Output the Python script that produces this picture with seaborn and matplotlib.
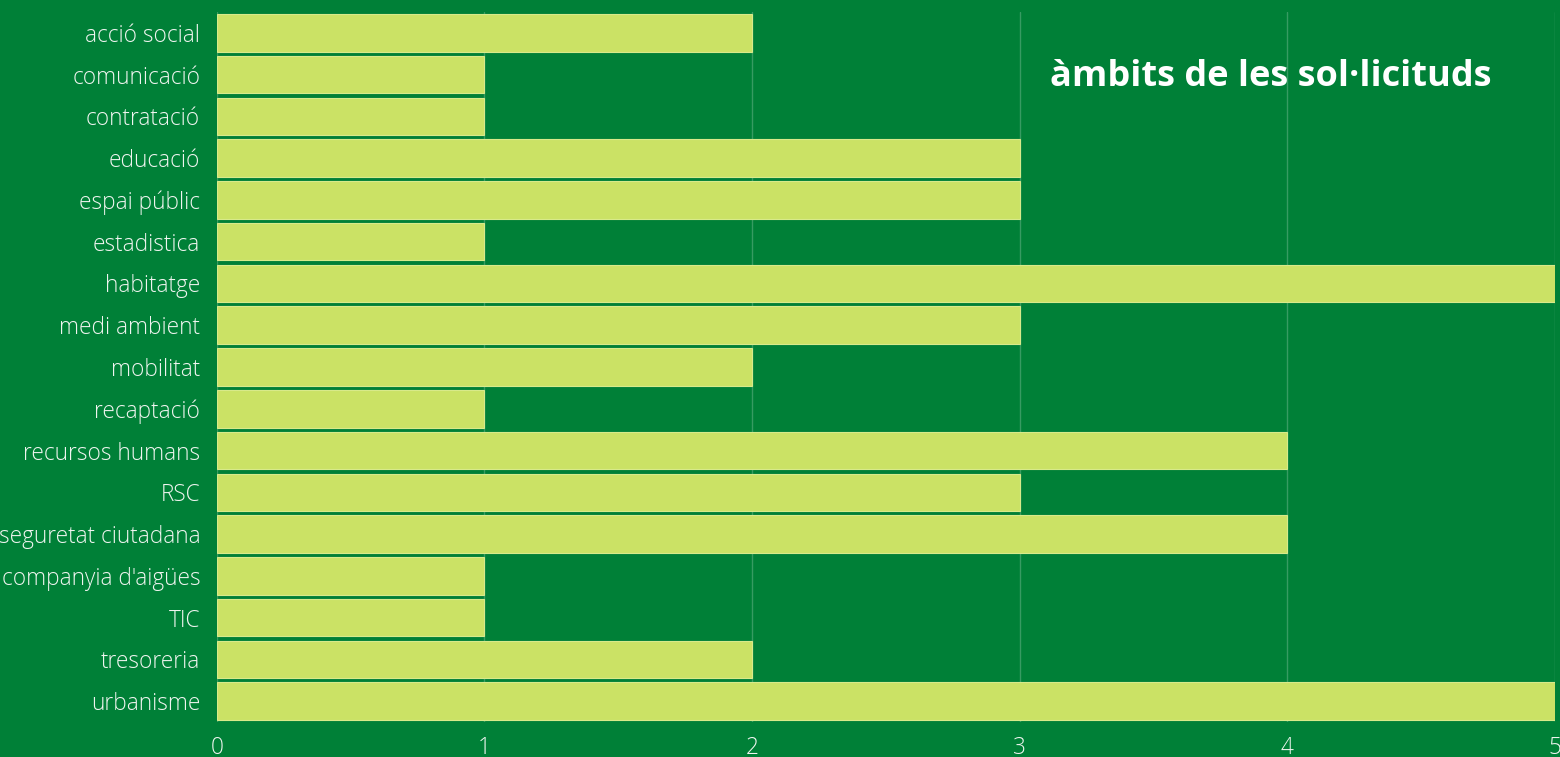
import matplotlib
matplotlib.use("Agg")
import matplotlib.pyplot as plt
import seaborn as sns
import pandas as pd

categories = ["acció social", "comunicació", "contratació", "educació", "espai públic",
              "estadistica", "habitatge", "medi ambient", "mobilitat", "recaptació",
              "recursos humans", "RSC", "seguretat ciutadana", "companyia d'aigües",
              "TIC", "tresoreria", "urbanisme"]
values = [2, 1, 1, 3, 3, 1, 5, 3, 2, 1, 4, 3, 4, 1, 1, 2, 5]
xticks = [0, 1, 2, 3, 4, 5]
title = "àmbits de les sol·licituds"

BG = "#008037"
BAR = "#cbe265"

sns.set_theme(style="white")
plt.rcParams['font.family'] = ['Open Sans', 'DejaVu Sans']

df = pd.DataFrame({"cat": categories, "val": values})

fig = plt.figure(figsize=(15.6, 7.57), dpi=100, facecolor=BG)
ax = fig.add_axes([0.139, 0.0462, 0.8578, 0.938])
ax.set_facecolor(BG)

sns.barplot(data=df, x="val", y="cat", orient="h", color=BAR, width=0.9,
            saturation=1, edgecolor="#d8ea8a", linewidth=0.8, ax=ax, zorder=3)

ax.set_xlim(0, 5)
ax.set_ylim(len(categories) - 0.5, -0.5)
ax.set_xticks(xticks)
ax.set_xticklabels([str(t) for t in xticks])
ax.set_xlabel("")
ax.set_ylabel("")
for s in ax.spines.values():
    s.set_visible(False)
ax.grid(axis="x", color="#ffffff", alpha=0.22, linewidth=1, zorder=0)
ax.grid(axis="y", visible=False)
ax.tick_params(axis="x", length=0, pad=10, labelsize=16.3, labelcolor="#f0f5f0")
ax.tick_params(axis="y", length=0, pad=12, labelsize=16.3, labelcolor="#f0f5f0")
for lbl in ax.get_xticklabels() + ax.get_yticklabels():
    lbl.set_fontweight("light")

fig.text(1050 / 1560, 1 - 77 / 757, title, color="white", fontsize=26,
         fontweight="bold", ha="left", va="center")

fig.savefig("out.png", dpi=100, facecolor=BG)
